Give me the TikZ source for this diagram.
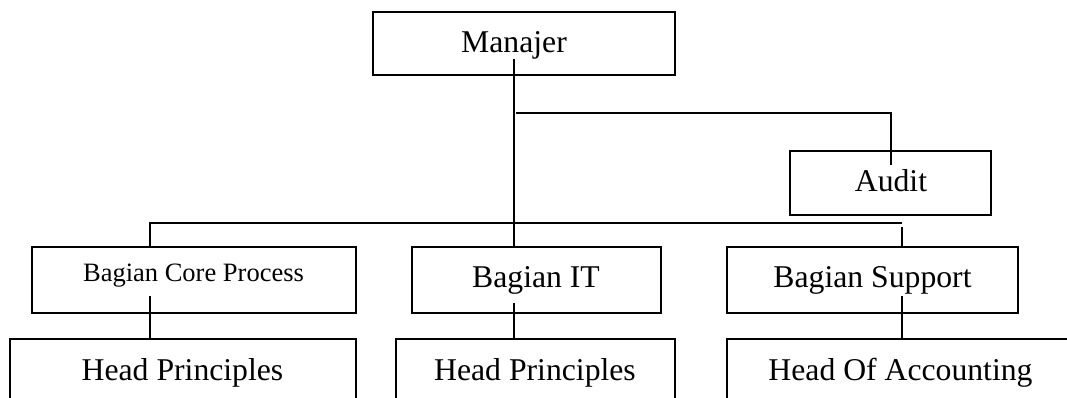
\documentclass[tikz,border=0pt]{standalone}
\usepackage{fontspec}
\setmainfont{Liberation Serif}
\begin{document}
\begin{tikzpicture}[x=1pt,y=-1pt,
  box/.style={draw=black,line width=1.8pt,rectangle,inner sep=0pt},
  txt/.style={anchor=base,inner sep=0pt,font=\fontsize{31.7}{38}\selectfont},
  smalltxt/.style={anchor=base,inner sep=0pt,font=\fontsize{26.5}{32}\selectfont},
  conn/.style={draw=black,line width=1.6pt}]
\useasboundingbox (0,0) rectangle (1067,398);
\clip (0,0) rectangle (1067,398);
\fill[white] (0,0) rectangle (1067,398);
% boxes
\node[box,minimum width=302pt,minimum height=63pt] (man) at (524,43.5) {};
\node[box,minimum width=201pt,minimum height=64pt] (aud) at (890.5,183) {};
\node[box,minimum width=324pt,minimum height=66pt] (core) at (194,280) {};
\node[box,minimum width=249pt,minimum height=66pt] (it) at (536.5,280) {};
\node[box,minimum width=291pt,minimum height=66pt] (sup) at (872.5,280) {};
\node[box,minimum width=346pt,minimum height=81pt] (hp1) at (183,379.5) {};
\node[box,minimum width=279pt,minimum height=81pt] (hp2) at (535.5,379.5) {};
\node[box,minimum width=363pt,minimum height=81pt] (hoa) at (908.5,379.5) {};
% texts
\node[txt] (tman) at (514,53) {Manajer};
\node[txt] (taud) at (891,191.7) {Audit};
\node[smalltxt] (tcore) at (193.5,281.7) {Bagian Core Process};
\node[txt] (tit) at (536,287) {Bagian IT};
\node[txt] (tsup) at (872.5,287) {Bagian Support};
\node[txt] (thp1) at (182.5,380) {Head Principles};
\node[txt] (thp2) at (535,380) {Head Principles};
\node[txt] (thoa) at (900.5,380) {Head Of Accounting};
% connector points
\coordinate (m1) at (514,59);
\coordinate (a0) at (516,113);
\coordinate (a1) at (891,113);
\coordinate (a2) at (891,165);
\coordinate (b0) at (150,223);
\coordinate (b1) at (902,223);
\coordinate (b2) at (902,227);
\coordinate (c1) at (150,296);
\coordinate (c2) at (514,303);
\coordinate (c3) at (902,296);
% connectors
\draw[conn] (m1) -- (m1 |- it.north);
\draw[conn] (a0) -- (a1) -- (a2);
\draw[conn] (b0 |- core.north) -- (b0) -- (b1);
\draw[conn] (b2) -- (b2 |- sup.north);
\draw[conn] (c1) -- (c1 |- hp1.north);
\draw[conn] (c2) -- (c2 |- hp2.north);
\draw[conn] (c3) -- (c3 |- hoa.north);
\end{tikzpicture}
\end{document}
